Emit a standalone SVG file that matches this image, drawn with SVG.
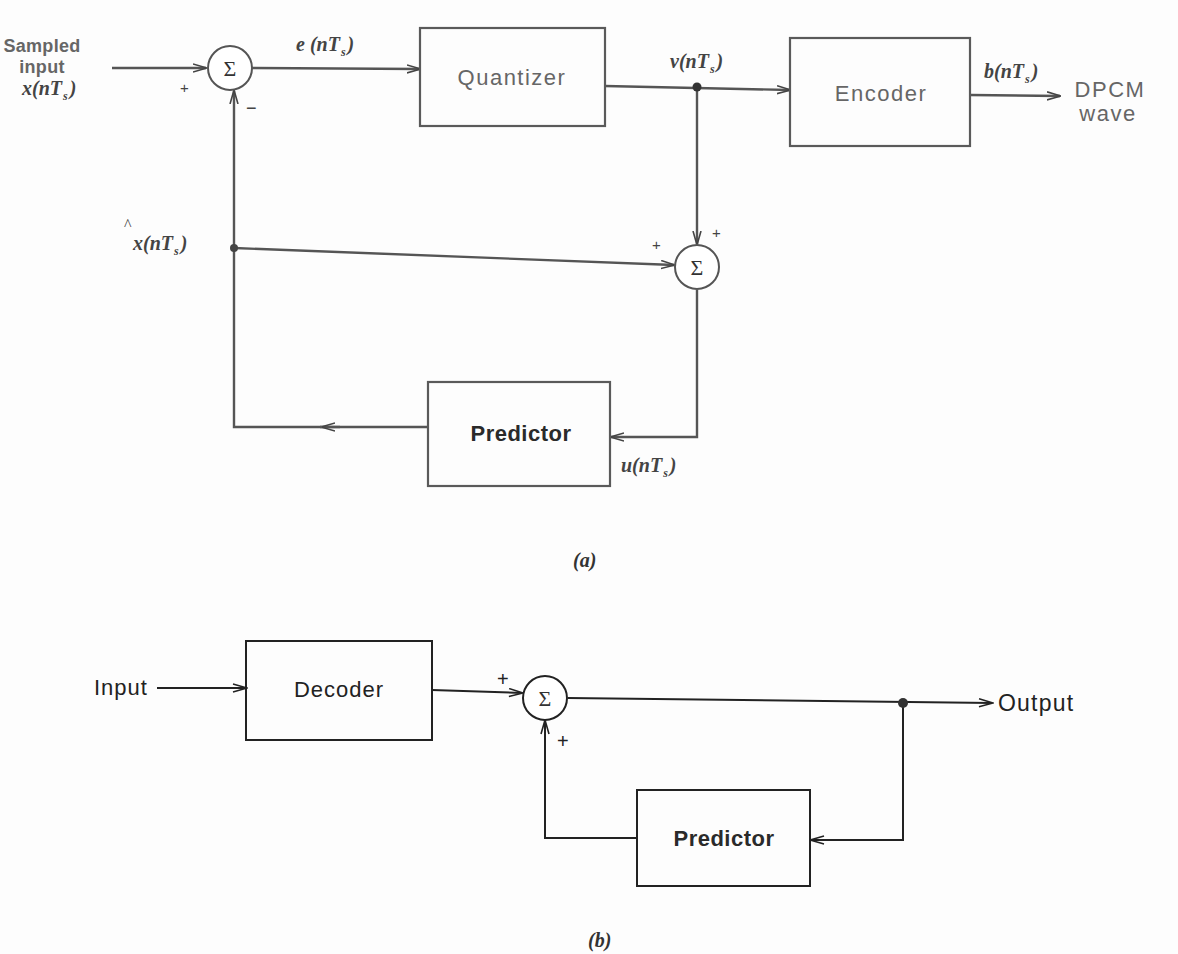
<svg xmlns="http://www.w3.org/2000/svg" width="1178" height="954" viewBox="0 0 1178 954">
<defs>
<marker id="arr" viewBox="0 0 14 10" refX="13" refY="5" markerWidth="14" markerHeight="10" markerUnits="userSpaceOnUse" orient="auto">
<path d="M0,1 L14,5 L0,9" fill="none" stroke="#444" stroke-width="1.6"/>
</marker>
<marker id="arrb" viewBox="0 0 14 10" refX="13" refY="5" markerWidth="16" markerHeight="10" markerUnits="userSpaceOnUse" orient="auto">
<path d="M0,1 L14,5 L0,9" fill="none" stroke="#222" stroke-width="1.6"/>
</marker>
</defs>
<style>
.box{fill:none;stroke:#5a5a5a;stroke-width:2.2}
.boxb{fill:none;stroke:#222;stroke-width:2}
.sum{fill:#fff;stroke:#555;stroke-width:2}
.sumb{fill:#fff;stroke:#222;stroke-width:2}
.ln{fill:none;stroke:#555;stroke-width:2.4}
.lnb{fill:none;stroke:#222;stroke-width:2}
.lab{font-family:"Liberation Sans",Arial,sans-serif;font-size:22px;letter-spacing:1.5px;fill:#666}
.labs{font-family:"Liberation Sans",Arial,sans-serif;font-size:18px;font-weight:bold;letter-spacing:0.3px;fill:#666;text-anchor:middle}
.labb{font-family:"Liberation Sans",Arial,sans-serif;font-size:22px;letter-spacing:1px;fill:#222}
.out{font-family:"Liberation Sans",Arial,sans-serif;font-size:23px;letter-spacing:1.2px;fill:#222}
.plus{font-family:"Liberation Sans",Arial,sans-serif;font-size:20px;fill:#222}
.pred{font-family:"Liberation Sans",Arial,sans-serif;font-size:22px;font-weight:bold;letter-spacing:0.5px;fill:#2a2a2a}
.math{font-family:"Liberation Serif","Times New Roman",serif;font-style:italic;font-weight:bold;font-size:20px;fill:#444}
.sub{font-size:12px}
.hat{font-family:"Liberation Serif","Times New Roman",serif;font-size:16px;fill:#444}
.sig{font-family:"Liberation Serif","Times New Roman",serif;font-size:22px;fill:#333;text-anchor:middle}
.sm{font-family:"Liberation Sans",Arial,sans-serif;font-size:15px;fill:#444}
.minus{font-family:"Liberation Sans",Arial,sans-serif;font-size:18px;fill:#444}
.cap{font-family:"Liberation Serif","Times New Roman",serif;font-style:italic;font-weight:bold;font-size:20px;fill:#333}
</style>
<rect width="1178" height="954" fill="#fdfdfd"/>

<g id="connectors">
<path class="ln" d="M112,68 L206,68" marker-end="url(#arr)"/>
<path class="ln" d="M252,68 L420,69" marker-end="url(#arr)"/>
<path class="ln" d="M605,86 L790,90" marker-end="url(#arr)"/>
<path class="ln" d="M970,95 L1060,96" marker-end="url(#arr)"/>
<path class="ln" d="M697,87 L697,244" marker-end="url(#arr)"/>
<path class="ln" d="M234,248 L674,265" marker-end="url(#arr)"/>
<path class="ln" d="M697,290 L697,437 L611,437" marker-end="url(#arr)"/>
<path class="ln" d="M428,427 L320,427"/>
<path class="ln" d="M340,427 L322,427" marker-end="url(#arr)"/>
<path class="ln" d="M322,427 L234,427 L234,91" marker-end="url(#arr)"/>
<circle cx="697" cy="87" r="4.5" fill="#333"/>
<circle cx="234" cy="248" r="4" fill="#444"/>
<path class="lnb" d="M157,688 L246,688" marker-end="url(#arrb)"/>
<path class="lnb" d="M432,690 L522,693" marker-end="url(#arrb)"/>
<path class="lnb" d="M568,698 L992,703" marker-end="url(#arrb)"/>
<path class="lnb" d="M903,703 L903,840 L811,840" marker-end="url(#arrb)"/>
<path class="lnb" d="M637,838 L545,838 L545,721" marker-end="url(#arrb)"/>
<circle cx="903" cy="703" r="5" fill="#333"/>
</g>

<g id="input-a">
<text class="labs" x="42" y="52">Sampled</text>
<text class="labs" x="42" y="73">input</text>
<text class="math" x="22" y="95">x(nT<tspan class="sub" dx="1" dy="5">s</tspan><tspan dx="2" dy="-5">)</tspan></text>
<text class="sm" x="180" y="93">+</text>
</g>

<g id="sum1">
<circle class="sum" cx="230" cy="68" r="22"/>
<text class="sig" x="230" y="76">Σ</text>
<text class="minus" x="246" y="114">−</text>
</g>

<g id="label-e">
<text class="math" x="296" y="51">e (nT<tspan class="sub" dx="1" dy="5">s</tspan><tspan dx="2" dy="-5">)</tspan></text>
</g>

<g id="quantizer">
<rect class="box" x="420" y="28" width="185" height="98"/>
<text class="lab" x="512" y="85" text-anchor="middle">Quantizer</text>
</g>

<g id="label-v">
<text class="math" x="670" y="68">v(nT<tspan class="sub" dx="1" dy="5">s</tspan><tspan dx="2" dy="-5">)</tspan></text>
</g>

<g id="encoder">
<rect class="box" x="790" y="38" width="180" height="108"/>
<text class="lab" x="881" y="101" text-anchor="middle">Encoder</text>
</g>

<g id="output-a">
<text class="math" x="984" y="78">b(nT<tspan class="sub" dx="1" dy="5">s</tspan><tspan dx="2" dy="-5">)</tspan></text>
<text class="lab" x="1110" y="97" text-anchor="middle">DPCM</text>
<text class="lab" x="1108" y="121" text-anchor="middle">wave</text>
</g>

<g id="label-xhat">
<text class="hat" x="124" y="230">^</text>
<text class="math" x="133" y="250">x(nT<tspan class="sub" dx="1" dy="5">s</tspan><tspan dx="2" dy="-5">)</tspan></text>
</g>

<g id="sum2">
<circle class="sum" cx="697" cy="267" r="22"/>
<text class="sig" x="697" y="275">Σ</text>
<text class="sm" x="652" y="250">+</text>
<text class="sm" x="712" y="238">+</text>
</g>

<g id="predictor-a">
<rect class="box" x="428" y="382" width="182" height="104"/>
<text class="pred" x="521" y="441" text-anchor="middle">Predictor</text>
</g>

<g id="label-u">
<text class="math" x="621" y="472">u(nT<tspan class="sub" dx="1" dy="5">s</tspan><tspan dx="2" dy="-5">)</tspan></text>
</g>

<text class="cap" x="573" y="567">(a)</text>

<g id="input-b">
<text class="labb" x="94" y="695">Input</text>
</g>

<g id="decoder">
<rect class="boxb" x="246" y="641" width="186" height="99"/>
<text class="labb" x="339" y="697" text-anchor="middle">Decoder</text>
</g>

<g id="sum3">
<circle class="sumb" cx="545" cy="698" r="22"/>
<text class="sig" x="545" y="706">Σ</text>
<text class="plus" x="497" y="686">+</text>
<text class="plus" x="557" y="748">+</text>
</g>

<g id="output-b">
<text class="out" x="998" y="711">Output</text>
</g>

<g id="predictor-b">
<rect class="boxb" x="637" y="790" width="173" height="96"/>
<text class="pred" x="724" y="846" text-anchor="middle">Predictor</text>
</g>

<text class="cap" x="588" y="947">(b)</text>
</svg>
